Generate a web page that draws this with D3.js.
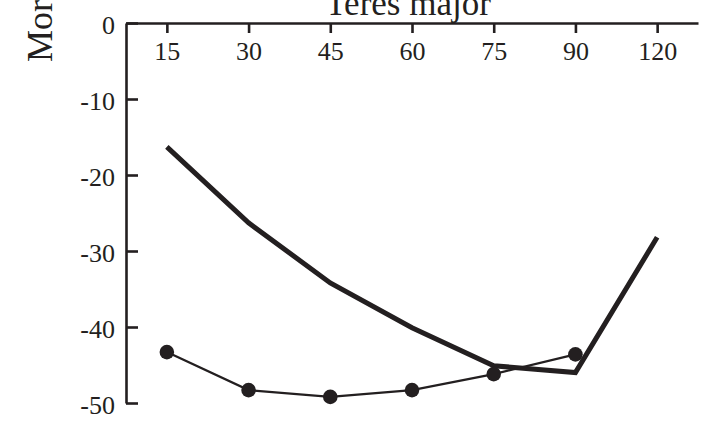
<!DOCTYPE html>
<html>
<head>
<meta charset="utf-8">
<script src="https://cdn.jsdelivr.net/npm/d3@7"></script>
<style>
  html, body { margin: 0; padding: 0; background: #fff; }
  svg { display: block; }
  svg text { font-family: "Liberation Serif", "Times New Roman", serif; }
</style>
</head>
<body>
<svg id="chart" width="711" height="422"></svg>
<script>
// Time points (top axis categories)
const categories = ["15", "30", "45", "60", "75", "90", "120"];
// Heavy line, no markers
const seriesHeavy = [-16.3, -26.3, -34.2, -40.1, -45.1, -46.0, -28.2];
// Light line with filled circles (no value at 120)
const seriesDots = [-43.3, -48.3, -49.2, -48.3, -46.2, -43.6];
// Y-axis tick values
const yTicks = [0, -10, -20, -30, -40, -50];

const ink = "#231f20";
const serif = '"Liberation Serif", "Times New Roman", serif';
const svg = d3.select("#chart");

const x = d3.scalePoint().domain(categories).range([126, 698]).padding(0.5);
const y = d3.scaleLinear().domain([-50, 0]).range([403, 23]);

// Top axis along y = 0, ticks pointing down into the plot
const xAxis = svg.append("g")
  .attr("transform", `translate(0,${y(0)})`)
  .call(d3.axisBottom(x).tickSizeInner(10).tickSizeOuter(0));
xAxis.attr("font-family", serif);
xAxis.select(".domain").attr("stroke", ink).attr("stroke-width", 2.6);
xAxis.selectAll(".tick line").attr("stroke", ink).attr("stroke-width", 2.6);
xAxis.selectAll(".tick text")
  .attr("y", 37).attr("dy", null)
  .attr("fill", ink).style("font-size", "26px");

// Left axis, ticks pointing right into the plot
const yAxis = svg.append("g")
  .attr("transform", `translate(${x.range()[0]},0)`)
  .call(d3.axisLeft(y).tickValues(yTicks).tickFormat(d => String(d))
    .tickSizeInner(-12).tickSizeOuter(0).tickPadding(11));
yAxis.attr("font-family", serif);
yAxis.select(".domain").attr("stroke", ink).attr("stroke-width", 2.6);
yAxis.selectAll(".tick line").attr("stroke", ink).attr("stroke-width", 2.6);
yAxis.selectAll(".tick text")
  .attr("dy", "0.42em")
  .attr("fill", ink).style("font-size", "26px");

// Title and y-axis label
svg.append("text")
  .attr("x", 408).attr("y", 15)
  .attr("text-anchor", "middle")
  .attr("fill", ink).style("font-size", "35px")
  .text("Teres major");

svg.append("text")
  .attr("transform", "translate(52,62) rotate(-90)")
  .attr("text-anchor", "start")
  .attr("fill", ink).style("font-size", "36px")
  .text("Mor");

const line = d3.line()
  .x((d, i) => x(categories[i]))
  .y(d => y(d));

// Heavy series
svg.append("path")
  .datum(seriesHeavy)
  .attr("fill", "none")
  .attr("stroke", ink)
  .attr("stroke-width", 5)
  .attr("stroke-linejoin", "miter")
  .attr("d", line);

// Light series with markers
svg.append("path")
  .datum(seriesDots)
  .attr("fill", "none")
  .attr("stroke", ink)
  .attr("stroke-width", 2.2)
  .attr("d", line);

svg.append("g")
  .selectAll("circle")
  .data(seriesDots)
  .join("circle")
  .attr("cx", (d, i) => x(categories[i]))
  .attr("cy", d => y(d))
  .attr("r", 7.3)
  .attr("fill", ink);
</script>
</body>
</html>
